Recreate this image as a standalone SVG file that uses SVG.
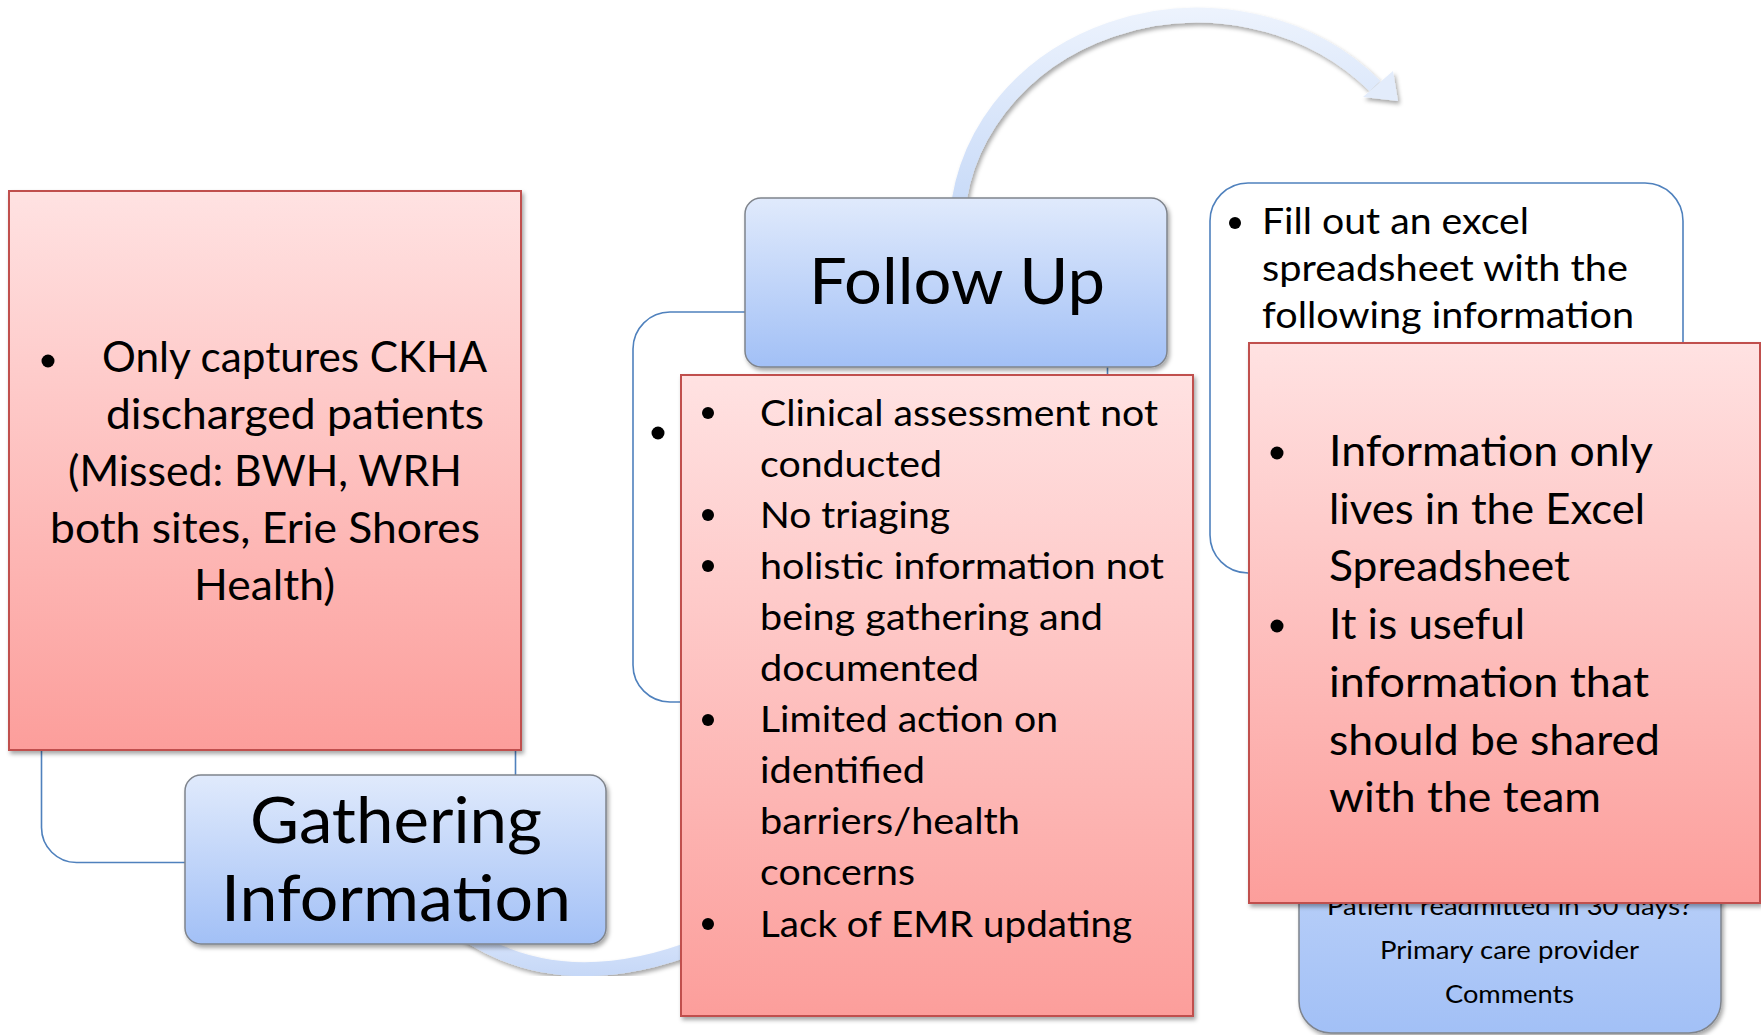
<svg xmlns="http://www.w3.org/2000/svg" width="1761" height="1035" viewBox="0 0 1761 1035">
  <defs>
    <linearGradient id="redFill" x1="0" y1="0" x2="0" y2="1">
      <stop offset="0" stop-color="#ffe2e2"/>
      <stop offset="1" stop-color="#fc9e9b"/>
    </linearGradient>
    <linearGradient id="blueFill" x1="0" y1="0" x2="0" y2="1">
      <stop offset="0" stop-color="#e0eafc"/>
      <stop offset="1" stop-color="#a2c0f6"/>
    </linearGradient>
    <linearGradient id="arcTopFill" gradientUnits="userSpaceOnUse" x1="0" y1="8" x2="0" y2="200">
      <stop offset="0" stop-color="#edf3fd"/>
      <stop offset="1" stop-color="#c9dbf8"/>
    </linearGradient>
    <linearGradient id="arcBottomFill" gradientUnits="userSpaceOnUse" x1="0" y1="930" x2="0" y2="975">
      <stop offset="0" stop-color="#d9e5fb"/>
      <stop offset="1" stop-color="#c6d8f7"/>
    </linearGradient>
    <filter id="shadow" x="-10%" y="-10%" width="125%" height="125%">
      <feDropShadow dx="2" dy="3" stdDeviation="2" flood-color="#000" flood-opacity="0.35"/>
    </filter>
  </defs>
  <style>
    text { font-family: Lato, "Noto Sans", "Liberation Sans", sans-serif; fill: #000; }
    .red { fill: url(#redFill); stroke: #c0504d; stroke-width: 2; filter: url(#shadow); }
    .title { fill: url(#blueFill); stroke: #7f848c; stroke-width: 1.5; filter: url(#shadow); }
    .notes { fill: #fff; stroke: #4f81bd; stroke-width: 1.6; }
    .dot { fill: #000; }
    .t72 { font-size: 64px; }
    .t47 { font-size: 42px; }
    .t42 { font-size: 37.3px; }
    .t29 { font-size: 25.8px; }
  </style>

  <!-- flow arrows -->
  <g id="connectors">
    <g filter="url(#shadow)">
      <path d="M 957 230 A 240 215 0 0 1 1375 86" fill="none" stroke="url(#arcTopFill)" stroke-width="15"/>
      <polygon points="1393,71 1398,101 1363,97" fill="#e3ecfb"/>
    </g>
    <path d="M 460 930 Q 560 1000 700 945" fill="none" stroke="url(#arcBottomFill)" stroke-width="14" filter="url(#shadow)"/>
  </g>

  <!-- white note panels -->
  <g id="gathering-notes">
    <rect class="notes" x="41.5" y="230" width="474" height="632.5" rx="35"/>
  </g>
  <g id="followup-notes">
    <rect class="notes" x="633" y="312" width="474.5" height="390" rx="37"/>
    <circle class="dot" cx="658" cy="433" r="6.5"/>
  </g>
  <g id="excel-notes">
    <rect class="notes" x="1210" y="183" width="473" height="390" rx="38"/>
    <circle class="dot" cx="1235" cy="223" r="6"/>
    <text class="t42" x="1262" y="234" textLength="267" lengthAdjust="spacingAndGlyphs">Fill out an excel</text>
    <text class="t42" x="1262" y="281" textLength="366" lengthAdjust="spacingAndGlyphs">spreadsheet with the</text>
    <text class="t42" x="1262" y="328" textLength="372" lengthAdjust="spacingAndGlyphs">following information</text>
  </g>

  <!-- step titles -->
  <g id="gathering">
    <rect class="title" x="185" y="775" width="421" height="169" rx="16"/>
    <text class="t72" x="250" y="843" textLength="292" lengthAdjust="spacingAndGlyphs">Gathering</text>
    <text class="t72" x="221" y="921" textLength="350" lengthAdjust="spacingAndGlyphs">Information</text>
  </g>
  <g id="followup">
    <rect class="title" x="745" y="198" width="422" height="169" rx="16"/>
    <text class="t72" x="809" y="304" textLength="296" lengthAdjust="spacingAndGlyphs">Follow Up</text>
  </g>
  <g id="tracking">
    <rect class="title" x="1299" y="600" width="422" height="433" rx="32"/>
    <text class="t29" x="1327" y="915" textLength="365" lengthAdjust="spacingAndGlyphs">Patient readmitted in 30 days?</text>
    <text class="t29" x="1380" y="959" textLength="259" lengthAdjust="spacingAndGlyphs">Primary care provider</text>
    <text class="t29" x="1445" y="1003" textLength="129" lengthAdjust="spacingAndGlyphs">Comments</text>
  </g>

  <!-- issue call-outs -->
  <g id="issue-gathering">
    <rect class="red" x="9" y="191" width="512" height="559"/>
    <circle class="dot" cx="48" cy="361" r="6.5"/>
    <text class="t47" x="102" y="372" textLength="385" lengthAdjust="spacingAndGlyphs">Only captures CKHA</text>
    <text class="t47" x="106" y="429" textLength="378" lengthAdjust="spacingAndGlyphs">discharged patients</text>
    <text class="t47" x="68" y="486" textLength="394" lengthAdjust="spacingAndGlyphs">(Missed: BWH, WRH</text>
    <text class="t47" x="50" y="543" textLength="430" lengthAdjust="spacingAndGlyphs">both sites, Erie Shores</text>
    <text class="t47" x="194" y="600" textLength="141" lengthAdjust="spacingAndGlyphs">Health)</text>
  </g>
  <g id="issue-followup">
    <rect class="red" x="681" y="375" width="512" height="641"/>
    <circle class="dot" cx="708" cy="413" r="6"/>
    <circle class="dot" cx="708" cy="515" r="6"/>
    <circle class="dot" cx="708" cy="566" r="6"/>
    <circle class="dot" cx="708" cy="720" r="6"/>
    <circle class="dot" cx="708" cy="924" r="6"/>
    <text class="t42" x="760" y="425.5" textLength="398" lengthAdjust="spacingAndGlyphs">Clinical assessment not</text>
    <text class="t42" x="760" y="476.6" textLength="182" lengthAdjust="spacingAndGlyphs">conducted</text>
    <text class="t42" x="760" y="527.7" textLength="190" lengthAdjust="spacingAndGlyphs">No triaging</text>
    <text class="t42" x="760" y="578.8" textLength="404" lengthAdjust="spacingAndGlyphs">holistic information not</text>
    <text class="t42" x="760" y="629.9" textLength="343" lengthAdjust="spacingAndGlyphs">being gathering and</text>
    <text class="t42" x="760" y="681" textLength="219" lengthAdjust="spacingAndGlyphs">documented</text>
    <text class="t42" x="760" y="732.1" textLength="298" lengthAdjust="spacingAndGlyphs">Limited action on</text>
    <text class="t42" x="760" y="783.2" textLength="165" lengthAdjust="spacingAndGlyphs">identified</text>
    <text class="t42" x="760" y="834.3" textLength="260" lengthAdjust="spacingAndGlyphs">barriers/health</text>
    <text class="t42" x="760" y="885.4" textLength="155" lengthAdjust="spacingAndGlyphs">concerns</text>
    <text class="t42" x="760" y="936.5" textLength="372" lengthAdjust="spacingAndGlyphs">Lack of EMR updating</text>
  </g>
  <g id="issue-excel">
    <rect class="red" x="1249" y="343" width="511" height="560"/>
    <circle class="dot" cx="1277" cy="453" r="6.5"/>
    <circle class="dot" cx="1277" cy="626" r="6.5"/>
    <text class="t47" x="1329" y="466" textLength="324" lengthAdjust="spacingAndGlyphs">Information only</text>
    <text class="t47" x="1329" y="523.7" textLength="316" lengthAdjust="spacingAndGlyphs">lives in the Excel</text>
    <text class="t47" x="1329" y="581.4" textLength="241" lengthAdjust="spacingAndGlyphs">Spreadsheet</text>
    <text class="t47" x="1329" y="639.1" textLength="196" lengthAdjust="spacingAndGlyphs">It is useful</text>
    <text class="t47" x="1329" y="696.8" textLength="320" lengthAdjust="spacingAndGlyphs">information that</text>
    <text class="t47" x="1329" y="754.5" textLength="331" lengthAdjust="spacingAndGlyphs">should be shared</text>
    <text class="t47" x="1329" y="812.2" textLength="272" lengthAdjust="spacingAndGlyphs">with the team</text>
  </g>
</svg>
